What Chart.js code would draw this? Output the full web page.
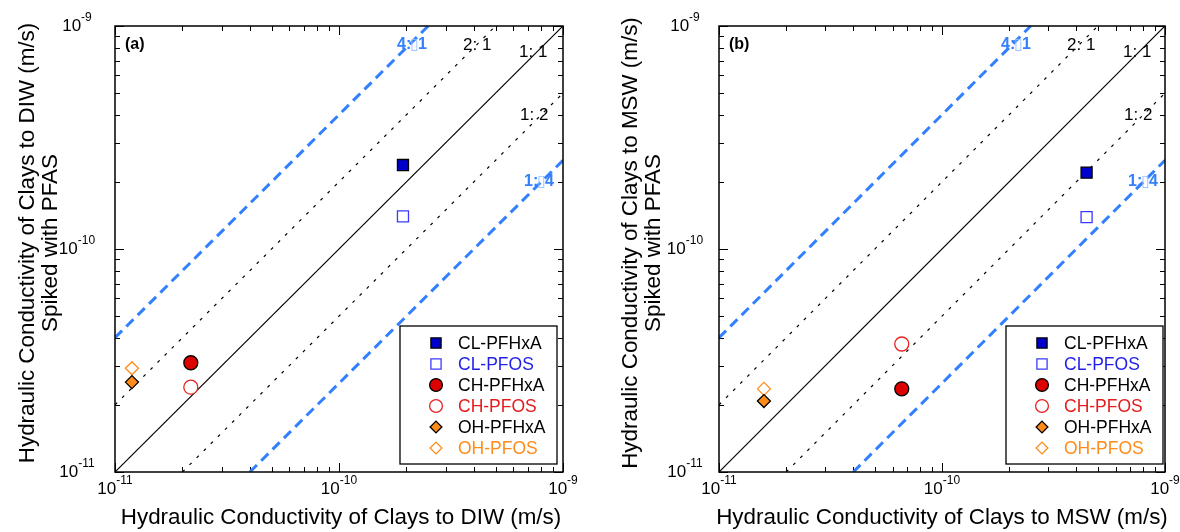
<!DOCTYPE html>
<html>
<head>
<meta charset="utf-8">
<script src="https://cdn.jsdelivr.net/npm/chart.js@4.4.0/dist/chart.umd.min.js"></script>
<style>
  body { margin: 0; background: #fff; }
  .wrap { position: relative; width: 1180px; height: 532px; }
  canvas { position: absolute; top: 0; }
</style>
</head>
<body>
<div class="wrap">
  <canvas id="chartA" width="590" height="532" style="left:0"></canvas>
  <canvas id="chartB" width="590" height="532" style="left:590px"></canvas>
</div>
<script>
// data
const seriesNames = ['CL-PFHxA', 'CL-PFOS', 'CH-PFHxA', 'CH-PFOS', 'OH-PFHxA', 'OH-PFOS'];
const diwX = [1.93e-10, 1.93e-10, 2.18e-11, 2.18e-11, 1.19e-11, 1.19e-11];
const diwY = [2.38e-10, 1.40e-10, 3.09e-11, 2.40e-11, 2.53e-11, 2.92e-11];
const mswX = [4.45e-10, 4.45e-10, 6.6e-11, 6.6e-11, 1.59e-11, 1.59e-11];
const mswY = [2.20e-10, 1.39e-10, 2.36e-11, 3.75e-11, 2.08e-11, 2.36e-11];
const ratioValues = [4, 2, 1, 0.5, 0.25];
const ratioLabels = ['4:\u25AF1', '2: 1', '1: 1', '1: 2', '1:\u25AF4'];
const axisMin = 1e-11;
const axisMax = 1e-9;
const decadeExps = [-11, -10, -9];

// marker styles
const pointStyles = ['rect', 'rect', 'circle', 'circle', 'rectRot', 'rectRot'];
const pointRadii = [7.8, 7.8, 7, 7, 6.5, 6.5];
const fillColors = ['#0000cc', '#ffffff', '#dd0000', '#ffffff', '#ff8c1a', '#ffffff'];
const edgeColors = ['#000000', '#3a3aff', '#000000', '#e82020', '#000000', '#ff8c1a'];
const textColors = ['#000000', '#1f1fe6', '#000000', '#e41c1c', '#000000', '#ff8c1a'];
const blue = '#3380ff';
const FONT = '"Liberation Sans", Arial, Helvetica, sans-serif';

function ratioLine(r, i) {
  const x0 = Math.max(axisMin, axisMin / r);
  const x1 = Math.min(axisMax, axisMax / r);
  const dashed = r === 4 || r === 0.25;
  return {
    type: 'scatter',
    data: [{x: x0, y: x0 * r}, {x: x1, y: x1 * r}],
    showLine: true,
    pointRadius: 0,
    borderColor: dashed ? blue : '#000',
    borderWidth: dashed ? 3 : 1.2,
    borderDash: dashed ? [10, 6] : (r === 1 ? [] : [3, 7]),
    order: 5 + i
  };
}

function pointSets(xs, ys) {
  return seriesNames.map((name, i) => ({
    label: name,
    data: [{x: xs[i], y: ys[i]}],
    pointStyle: pointStyles[i],
    pointRadius: pointRadii[i],
    backgroundColor: fillColors[i],
    borderColor: edgeColors[i],
    borderWidth: 1.3,
    order: 1
  }));
}

function drawMarker(ctx, style, x, y, r, fill, edge) {
  ctx.beginPath();
  if (style === 'rect') {
    const s = r * Math.SQRT1_2;
    ctx.rect(x - s, y - s, 2 * s, 2 * s);
  } else if (style === 'circle') {
    ctx.arc(x, y, r, 0, Math.PI * 2);
  } else {
    ctx.moveTo(x, y - r); ctx.lineTo(x + r, y); ctx.lineTo(x, y + r); ctx.lineTo(x - r, y); ctx.closePath();
  }
  ctx.fillStyle = fill; ctx.fill();
  ctx.lineWidth = 1.3; ctx.strokeStyle = edge; ctx.stroke();
}

function powLabel(ctx, exp, x, y) {
  ctx.font = '17px ' + FONT;
  const bw = ctx.measureText('10').width;
  ctx.font = '12px ' + FONT;
  const ew = ctx.measureText(String(exp)).width;
  const sx = x - (bw + ew) / 2;
  ctx.fillStyle = '#000';
  ctx.textAlign = 'left';
  ctx.textBaseline = 'middle';
  ctx.font = '17px ' + FONT;
  ctx.fillText('10', sx, y);
  ctx.font = '12px ' + FONT;
  ctx.fillText(String(exp), sx + bw, y - 8);
}

function makePanel(id, tag, xs, ys, xTitle, yTitle, pad, lab) {
  const framePlugin = {
    id: 'frame' + tag,
    beforeDatasetsDraw(chart) {
      const {ctx, chartArea: a, scales: {x, y}} = chart;
      ctx.save();
      ctx.strokeStyle = '#000';
      ctx.lineWidth = 1;
      // inward ticks on all four sides
      for (let e = -11; e < -9; e++) {
        for (let m = 1; m <= 10; m++) {
          const v = m * Math.pow(10, e);
          const len = (m === 1 || m === 10) ? 9 : 5;
          const px = Math.round(x.getPixelForValue(v)) + 0.5;
          const py = Math.round(y.getPixelForValue(v)) + 0.5;
          ctx.beginPath();
          ctx.moveTo(px, a.bottom); ctx.lineTo(px, a.bottom - len);
          ctx.moveTo(px, a.top); ctx.lineTo(px, a.top + len);
          ctx.moveTo(a.left, py); ctx.lineTo(a.left + len, py);
          ctx.moveTo(a.right, py); ctx.lineTo(a.right - len, py);
          ctx.stroke();
        }
      }
      ctx.restore();
    },
    afterDatasetsDraw(chart) {
      const {ctx, chartArea: a, scales: {x, y}} = chart;
      ctx.save();
      ctx.strokeStyle = '#000';
      ctx.lineWidth = 1.5;
      ctx.strokeRect(a.left, a.top, a.right - a.left, a.bottom - a.top);

      // decade labels
      decadeExps.forEach(e => {
        const v = Math.pow(10, e);
        powLabel(ctx, e, x.getPixelForValue(v), a.bottom + 17);
        powLabel(ctx, e, a.left - lab.yTickGap, y.getPixelForValue(v));
      });

      // axis titles
      ctx.fillStyle = '#000';
      ctx.font = '22.4px ' + FONT;
      ctx.textAlign = 'center';
      ctx.textBaseline = 'middle';
      ctx.fillText(xTitle, (a.left + a.right) / 2 + lab.xTitleShift, a.bottom + 46);
      ctx.save();
      ctx.translate(a.left - lab.yTitleGap, (a.top + a.bottom) / 2 - 6);
      ctx.rotate(-Math.PI / 2);
      ctx.fillText(yTitle[0], 0, -11);
      ctx.fillText(yTitle[1], 0, 12);
      ctx.restore();

      // panel tag
      ctx.font = 'bold 16px ' + FONT;
      ctx.textAlign = 'left';
      ctx.fillText('(' + tag + ')', a.left + 10, a.top + 19);

      // ratio line labels
      const spots = [[282, 19], [348, 19], [404, 26], [405, 89], [409, 156]];
      ratioLabels.forEach((t, i) => {
        const isBlue = ratioValues[i] === 4 || ratioValues[i] === 0.25;
        let cx = a.left + spots[i][0];
        const cy = a.top + spots[i][1];
        const parts = t.split('\u25AF');
        ctx.font = (isBlue ? 'bold 16px ' : '17px ') + FONT;
        ctx.fillStyle = isBlue ? blue : '#000';
        if (parts.length === 1) {
          ctx.fillText(t, cx, cy);
        } else {
          ctx.fillText(parts[0], cx, cy);
          cx += ctx.measureText(parts[0]).width;
          ctx.font = '16px "DejaVu Sans", sans-serif';
          ctx.fillStyle = '#9cc2ff';
          ctx.fillText('\u25AF', cx - 1, cy);
          cx += ctx.measureText('\u25AF').width - 2;
          ctx.font = 'bold 16px ' + FONT;
          ctx.fillStyle = blue;
          ctx.fillText(parts[1], cx, cy);
        }
      });

      // legend box
      const lx = a.right - lab.legendRight - 157, ly = a.top + 300;
      ctx.fillStyle = '#fff';
      ctx.fillRect(lx, ly, 157, 138);
      ctx.lineWidth = 1.3;
      ctx.strokeStyle = '#000';
      ctx.strokeRect(lx, ly, 157, 138);
      seriesNames.forEach((name, i) => {
        const ry = ly + 17 + i * 21;
        drawMarker(ctx, pointStyles[i], lx + 36, ry, pointRadii[i] - 0.6, fillColors[i], edgeColors[i]);
        ctx.font = '17.5px ' + FONT;
        ctx.fillStyle = textColors[i];
        ctx.textAlign = 'left';
        ctx.textBaseline = 'middle';
        ctx.fillText(name, lx + 58, ry + 1);
      });
      ctx.restore();
    }
  };

  return new Chart(document.getElementById(id), {
    type: 'scatter',
    data: {
      datasets: [...pointSets(xs, ys), ...ratioValues.map(ratioLine)]
    },
    options: {
      responsive: false,
      animation: false,
      devicePixelRatio: 1,
      layout: {padding: pad},
      plugins: {legend: {display: false}, tooltip: {enabled: false}},
      scales: {
        x: {type: 'logarithmic', min: axisMin, max: axisMax, display: false},
        y: {type: 'logarithmic', min: axisMin, max: axisMax, display: false}
      }
    },
    plugins: [framePlugin]
  });
}

makePanel('chartA', 'a', diwX, diwY,
  'Hydraulic Conductivity of Clays to DIW (m/s)',
  ['Hydraulic Conductivity of Clays to DIW (m/s)', 'Spiked with PFAS'],
  {left: 115, right: 27, top: 26, bottom: 60},
  {yTickGap: 38, yTitleGap: 76, xTitleShift: 2, legendRight: 6});

makePanel('chartB', 'b', mswX, mswY,
  'Hydraulic Conductivity of Clays to MSW (m/s)',
  ['Hydraulic Conductivity of Clays to MSW (m/s)', 'Spiked with PFAS'],
  {left: 129, right: 15, top: 26, bottom: 60},
  {yTickGap: 34, yTitleGap: 77, xTitleShift: 0, legendRight: 2});
</script>
</body>
</html>
